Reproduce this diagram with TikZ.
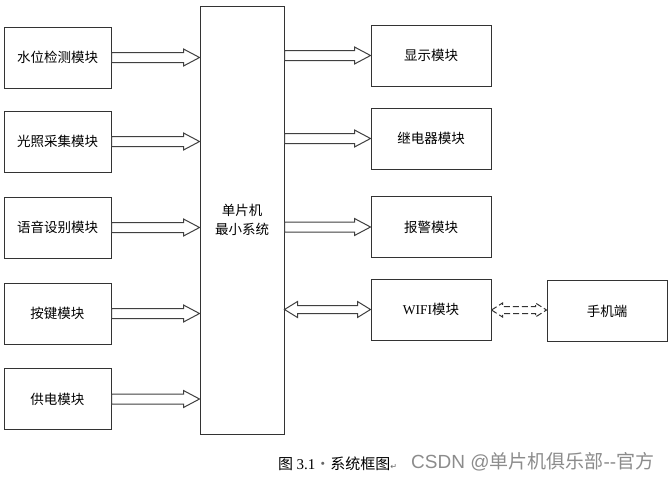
\documentclass[tikz,border=0pt]{standalone}
\usepackage{fontspec}
\setmainfont{Noto Sans CJK SC}
\newfontfamily\latinserif{Liberation Serif}
\newfontfamily\latinsans{Liberation Sans}
\newfontfamily\symfont{DejaVu Sans}
\usetikzlibrary{calc}
\tikzset{
  box/.style={draw=black!80, line width=1pt, inner sep=0pt, font=\fontsize{13.5}{19}\selectfont, align=center},
  barrow/.style={draw=black!75, line width=1pt, fill=white},
  darrow/.style={draw=black!80, line width=1pt, fill=white, dash pattern=on 6pt off 3pt},
}
% single block arrow: #1 start point, #2 tip point
\newcommand\singlearrow[2]{%
  \draw[barrow] let \p1=(#1), \p2=(#2) in
    (\x1,\y1+5pt) -- (\x2-16pt,\y1+5pt) -- (\x2-16pt,\y1+8.5pt) -- (\x2,\y1)
    -- (\x2-16pt,\y1-8.5pt) -- (\x2-16pt,\y1-5pt) -- (\x1,\y1-5pt) -- cycle;}
% double block arrow: #1 style, #2 start, #3 end, #4 head length, #5 head half, #6 shaft half
\newcommand\doublearrow[6]{%
  \draw[#1] let \p1=(#2), \p2=(#3) in
    (\x1,\y1) -- (\x1+#4,\y1+#5) -- (\x1+#4,\y1+#6) -- (\x2-#4,\y1+#6)
    -- (\x2-#4,\y1+#5) -- (\x2,\y1) -- (\x2-#4,\y1-#5) -- (\x2-#4,\y1-#6)
    -- (\x1+#4,\y1-#6) -- (\x1+#4,\y1-#5) -- cycle;}
\begin{document}
\begin{tikzpicture}[x=1pt,y=-1pt]
\useasboundingbox (0,0) rectangle (670,480);
% left modules
\node[box, minimum width=107pt, minimum height=61pt] (water) at (57.5,57.5) {水位检测模块};
\node[box, minimum width=107pt, minimum height=61pt] (light) at (57.5,141.5) {光照采集模块};
\node[box, minimum width=107pt, minimum height=61pt] (voice) at (57.5,227.5) {语音设别模块};
\node[box, minimum width=107pt, minimum height=61pt] (key) at (57.5,313.5) {按键模块};
\node[box, minimum width=107pt, minimum height=61pt] (power) at (57.5,399) {供电模块};
% MCU
\node[box, minimum width=84pt, minimum height=428pt] (mcu) at (242,220) {单片机\\最小系统};
% right modules
\node[box, minimum width=120pt, minimum height=61pt] (disp) at (431,55.5) {显示模块};
\node[box, minimum width=120pt, minimum height=61pt] (relay) at (431,138.5) {继电器模块};
\node[box, minimum width=120pt, minimum height=61pt] (alarm) at (431,227) {报警模块};
\node[box, minimum width=120pt, minimum height=61pt] (wifi) at (431,309.5) {{\latinserif WIFI}模块};
\node[box, minimum width=120pt, minimum height=61pt] (phone) at (607,311) {手机端};
% input arrows
\singlearrow{water.east}{mcu.west |- water.east}
\singlearrow{light.east}{mcu.west |- light.east}
\singlearrow{voice.east}{mcu.west |- voice.east}
\singlearrow{key.east}{mcu.west |- key.east}
\singlearrow{power.east}{mcu.west |- power.east}
% output arrows
\singlearrow{mcu.east |- disp.west}{disp.west}
\singlearrow{mcu.east |- relay.west}{relay.west}
\singlearrow{mcu.east |- alarm.west}{alarm.west}
% bidirectional
\doublearrow{barrow}{mcu.east |- wifi.west}{wifi.west}{13pt}{8pt}{4pt}
\coordinate (wr) at ($(wifi.east)+(0,0.5)$);
\doublearrow{darrow}{wr}{phone.west |- wr}{11pt}{7pt}{3.5pt}
% caption
\node[anchor=west, inner sep=0pt, font=\fontsize{15}{17}\selectfont] (cap) at (278,464)
  {图 {\latinserif 3.1}{\color{black!60}·}系统框图{\symfont\fontsize{8}{8}\selectfont\color{black!60}↵}};
\node[anchor=west, inner sep=0pt, text=black!45, font=\fontsize{19}{21}\selectfont] (wm) at (411,462)
  {{\latinsans CSDN @}单片机俱乐部{\latinsans -{}-}官方};
\end{tikzpicture}
\end{document}
